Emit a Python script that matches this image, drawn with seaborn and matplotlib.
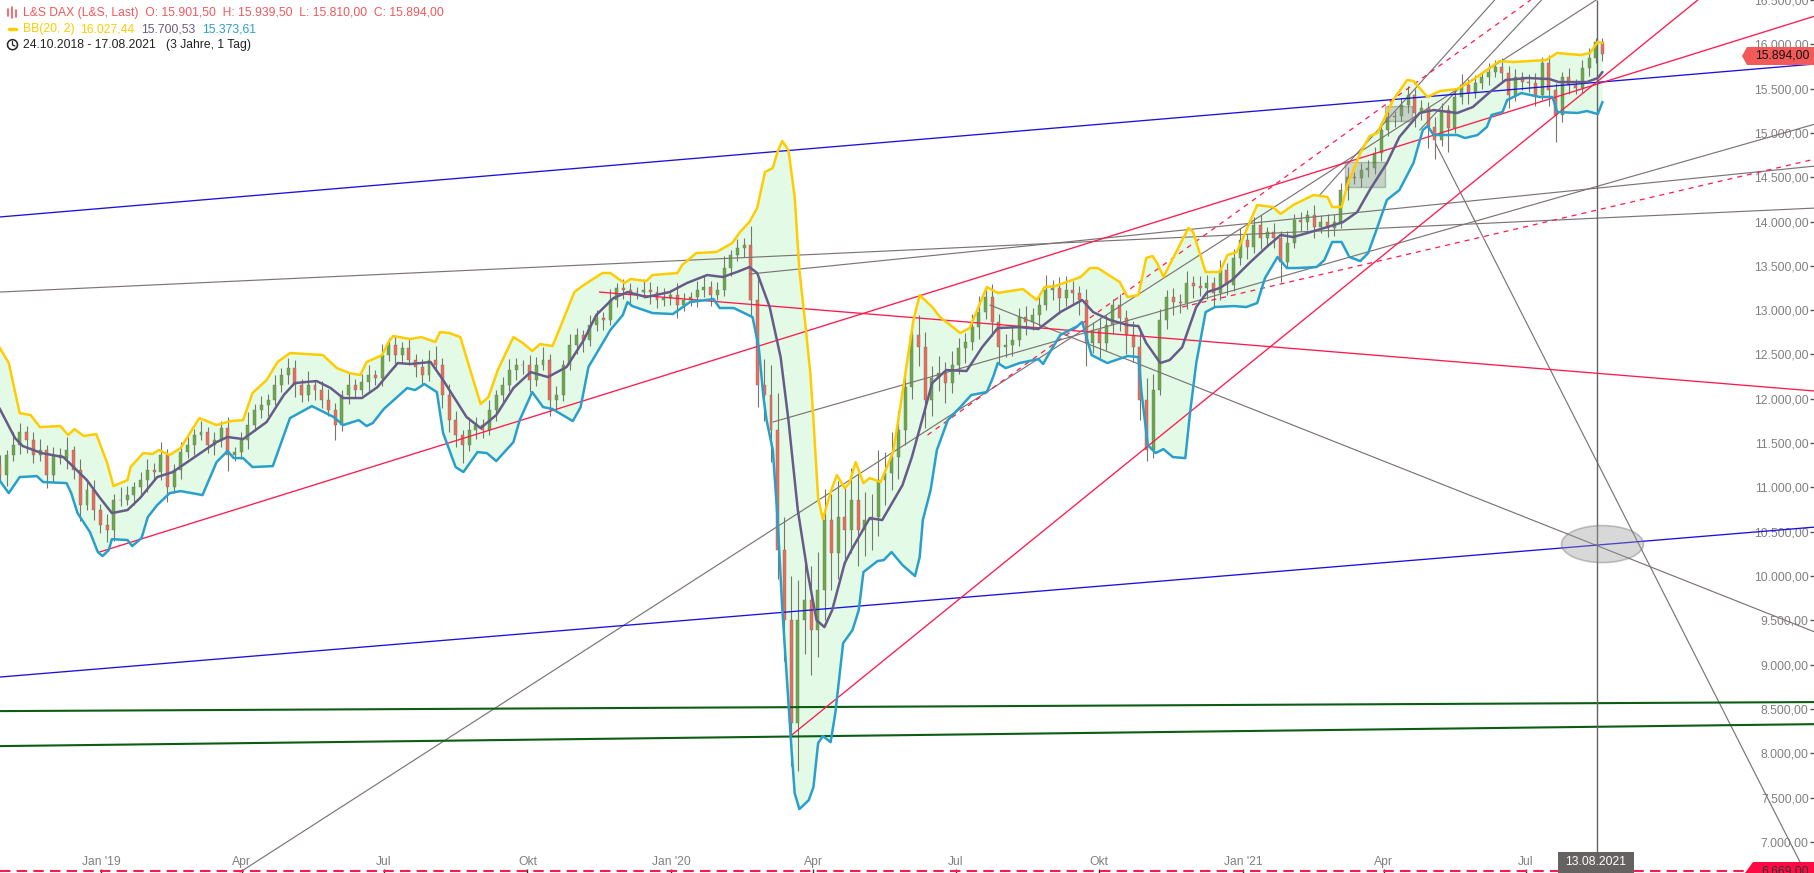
#!/usr/bin/env python3
"""
L&S DAX daily candles with Bollinger bands and hand drawn trend lines
"""

import numpy as np
import pandas as pd
import matplotlib
matplotlib.use('Agg')
import matplotlib.dates as mdates
import matplotlib.pyplot as plt
import seaborn as sns
from matplotlib.lines import Line2D
from matplotlib.patches import Ellipse, Polygon, Rectangle

# all x data is days after the first session
START = pd.Timestamp('2018-10-24')

upper_days = [4, 10, 17, 24, 30, 43, 48, 52, 58, 66, 73, 77, 86, 88, 96, 102, 106, 113, 120, 132,
              143, 152, 160, 166, 175, 182, 190, 211, 220, 228, 235, 239, 249, 253, 256, 267, 274, 283, 286, 292,
              299, 304, 312, 317, 323, 333, 339, 345, 350, 358, 363, 372, 378, 390, 395, 404, 408, 418, 422, 438,
              441, 450, 463, 473, 478, 484, 489, 494, 499, 502, 505, 509, 513, 516, 520, 523, 525, 528, 531, 536,
              540, 545, 548, 552, 557, 561, 568, 576, 580, 589, 593, 601, 606, 619, 625, 636, 643, 659, 668, 673,
              680, 696, 702, 707, 721, 726, 733, 738, 742, 745, 749, 765, 768, 776, 785, 790, 796, 804, 809, 819,
              824, 832, 845, 854, 857, 863, 867, 875, 881, 886, 896, 905, 909, 918, 926, 937, 945, 964, 973, 994,
              1001, 1016, 1022, 1027, 1030]
upper_vals = [12583, 12403, 11838, 11816, 11680, 11692, 11590, 11658, 11579, 11601, 11274, 11014, 11082, 11229, 11387, 11376, 11421, 11364, 11444, 11782,
              11703, 11748, 11759, 12064, 12211, 12414, 12516, 12493, 12346, 12290, 12267, 12414, 12493, 12640, 12708, 12674, 12696, 12640, 12753, 12741,
              12696, 12403, 11940, 12019, 12324, 12696, 12629, 12538, 12617, 12595, 12809, 13204, 13283, 13419, 13419, 13306, 13351, 13328, 13396, 13419,
              13509, 13644, 13656, 13757, 13881, 13994, 14152, 14558, 14604, 14784, 14909, 14807, 14276, 13452, 12809, 12290, 11759, 10879, 10642, 10947,
              11139, 10992, 11048, 11285, 11048, 11105, 11060, 11398, 11838, 12888, 13170, 13035, 12922, 12741, 12798, 13261, 13193, 13238, 13114, 13261,
              13272, 13374, 13475, 13475, 13317, 13148, 13170, 13588, 13611, 13532, 13374, 13927, 13881, 13430, 13430, 13622, 13656, 13983, 14186, 14164,
              14085, 14186, 14299, 14277, 14164, 14164, 14434, 14773, 14965, 15000, 15371, 15597, 15586, 15405, 15473, 15495, 15574, 15811, 15800, 15823,
              15902, 15879, 15902, 16026, 16015]

middle_days = [4, 14, 19, 31, 45, 60, 68, 76, 86, 94, 105, 115, 128, 143, 150, 160, 175, 186, 193, 207,
               216, 224, 236, 246, 254, 259, 267, 280, 288, 303, 312, 322, 333, 344, 355, 367, 378, 386, 397, 406,
               418, 433, 444, 457, 467, 476, 484, 489, 497, 504, 509, 515, 521, 527, 532, 537, 545, 550, 561, 569,
               582, 588, 594, 601, 610, 623, 633, 643, 657, 669, 683, 697, 704, 715, 726, 733, 738, 747, 753, 761,
               770, 777, 785, 793, 804, 815, 824, 832, 841, 854, 864, 873, 881, 892, 900, 913, 922, 937, 947, 958,
               968, 982, 996, 1002, 1020, 1027, 1030]
middle_vals = [11895, 11556, 11466, 11387, 11342, 11082, 10890, 10710, 10744, 10879, 11116, 11173, 11330, 11511, 11568, 11545, 11737, 12042, 12177, 12200,
               12121, 12008, 12008, 12132, 12301, 12403, 12392, 12414, 12211, 11793, 11669, 11816, 12121, 12301, 12245, 12358, 12662, 12945, 13136, 13204,
               13148, 13204, 13306, 13396, 13374, 13430, 13486, 13419, 13035, 12470, 11759, 10744, 10066, 9502, 9423, 9615, 10145, 10315, 10653, 10631,
               11026, 11342, 11726, 12177, 12324, 12313, 12583, 12798, 12809, 12787, 12978, 13114, 12978, 12888, 12832, 12820, 12629, 12403, 12437, 12583,
               13035, 13204, 13249, 13340, 13532, 13712, 13848, 13825, 13870, 13938, 13994, 14107, 14355, 14660, 14954, 15225, 15258, 15225, 15292, 15462,
               15597, 15620, 15608, 15574, 15574, 15620, 15687]

lower_days = [4, 10, 17, 28, 32, 47, 50, 54, 62, 67, 70, 74, 76, 86, 89, 95, 99, 105, 113, 120,
              134, 143, 150, 154, 160, 166, 179, 190, 204, 218, 224, 234, 239, 243, 250, 265, 270, 276, 284, 288,
              296, 301, 310, 316, 322, 333, 337, 345, 352, 358, 371, 376, 381, 395, 403, 406, 409, 422, 435, 446,
              461, 465, 474, 486, 490, 493, 495, 499, 502, 505, 509, 511, 513, 516, 522, 525, 528, 531, 536, 539,
              544, 550, 554, 557, 566, 570, 575, 582, 590, 593, 595, 600, 604, 611, 619, 626, 636, 640, 643, 648,
              657, 669, 672, 676, 683, 694, 697, 703, 713, 726, 733, 735, 739, 744, 749, 755, 763, 766, 770, 776,
              782, 794, 802, 809, 814, 822, 828, 834, 847, 852, 857, 863, 868, 875, 880, 886, 892, 900, 909, 915,
              918, 922, 937, 942, 950, 956, 959, 966, 969, 978, 990, 998, 1001, 1014, 1020, 1027, 1030]
lower_vals = [11082, 10935, 11116, 11127, 11060, 11048, 10935, 10710, 10495, 10270, 10224, 10292, 10416, 10405, 10337, 10428, 10665, 10800, 10935, 10958,
              10913, 11285, 11410, 11330, 11330, 11229, 11240, 11782, 11917, 11793, 11703, 11759, 11692, 11726, 11884, 12121, 12098, 12166, 12075, 11613,
              11229, 11173, 11398, 11387, 11297, 11511, 11759, 12075, 11906, 11884, 11748, 11906, 12358, 12775, 12945, 13091, 13046, 12967, 12956, 13091,
              13125, 13024, 13024, 12922, 12583, 12019, 11759, 11421, 10665, 9649, 8565, 8035, 7549, 7369, 7470, 7617, 8114, 8193, 8125, 8452,
              9242, 9389, 9615, 10044, 10168, 10179, 10270, 10123, 9999, 10213, 10631, 10970, 11421, 11759, 11906, 12042, 12076, 12245, 12403, 12346,
              12403, 12448, 12392, 12516, 12719, 12820, 12866, 12493, 12403, 12482, 12470, 12064, 11477, 11387, 11432, 11342, 11330, 11838, 12403, 12978,
              13035, 13046, 13035, 13080, 13362, 13599, 13475, 13475, 13486, 13565, 13769, 13769, 13599, 13554, 13644, 13938, 14243, 14355, 14660, 15033,
              15078, 14976, 14976, 14942, 14976, 15067, 15202, 15236, 15371, 15450, 15405, 15405, 15236, 15225, 15247, 15213, 15349]

# closes of every few sessions, the open of a candle is the close before it
candle_close = [11250, 11140, 11360, 11480, 11620, 11530, 11360, 11420, 11140, 11360,
                11330, 11420, 11200, 10800, 10970, 10740, 10570, 10520, 10860, 10860,
                10910, 11000, 11080, 11200, 11170, 11360, 11000, 11200, 11400, 11480,
                11590, 11620, 11480, 11530, 11670, 11360, 11400, 11530, 11700, 11870,
                11930, 11990, 12150, 12270, 12350, 12150, 12040, 12150, 12100, 11990,
                11870, 11700, 12040, 12150, 12100, 12190, 12270, 12230, 12490, 12610,
                12490, 12570, 12440, 12360, 12270, 12440, 12380, 12040, 11760, 11590,
                11480, 11650, 11700, 11650, 11870, 12040, 12150, 12320, 12380, 12380,
                12210, 12380, 12440, 11990, 12040, 12380, 12610, 12720, 12660, 12830,
                12910, 12890, 13110, 13250, 13230, 13200, 13200, 13230, 13200, 13110,
                13140, 13170, 13060, 13110, 13150, 13230, 13260, 13170, 13230, 13480,
                13620, 13700, 13730, 13110, 12150, 12040, 11650, 10290, 9500, 8340,
                9500, 9730, 9390, 9840, 10630, 10260, 10660, 10520, 10860, 10520,
                10630, 10660, 11080, 11160, 11340, 11650, 12130, 12720, 12580, 11990,
                12230, 12290, 12180, 12380, 12570, 12640, 12810, 12980, 13150, 12870,
                12580, 12610, 12660, 12920, 12870, 12940, 13060, 13230, 13250, 13140,
                13230, 13190, 13110, 12630, 12780, 12630, 12830, 13060, 12910, 12720,
                12580, 11990, 11420, 12100, 12890, 13150, 13090, 13080, 13310, 13270,
                13250, 13310, 13190, 13450, 13280, 13590, 13790, 13710, 13960, 13810,
                13880, 13810, 13540, 13760, 14020, 13990, 14070, 13940, 13990, 13930,
                13990, 14360, 14500, 14490, 14580, 14600, 14770, 15030, 15180, 15190,
                15310, 15430, 15220, 15280, 15070, 14920, 15260, 15060, 15410, 15540,
                15450, 15560, 15630, 15690, 15740, 15680, 15430, 15630, 15570, 15560,
                15430, 15790, 15480, 15200, 15630, 15540, 15510, 15730, 15850, 16030,
                15894]
candle_wick_up = [90, 120, 60, 140, 110, 70, 90, 130, 60, 100,
                  80, 150, 50, 120, 90, 110, 70, 130, 60, 140,
                  100, 60, 90, 120, 80, 150, 70, 60, 110, 90,
                  70, 130, 60, 100, 80, 120, 60, 90, 150, 70,
                  100, 60, 120, 80, 110, 90, 70, 160, 60, 100,
                  120, 80, 60, 140, 70, 90, 110, 60, 130, 80,
                  100, 70, 120, 60, 90, 110, 150, 80, 130, 100,
                  60, 140, 90, 70, 120, 60, 100, 130, 80, 60,
                  110, 90, 140, 70, 100, 60, 120, 80, 60, 110,
                  90, 70, 130, 60, 100, 80, 60, 120, 90, 70,
                  110, 60, 140, 80, 60, 100, 120, 70, 90, 130,
                  60, 100, 80, 220, 260, 300, 340, 420, 380, 500,
                  460, 520, 380, 430, 350, 300, 410, 330, 360, 290,
                  320, 260, 340, 240, 280, 210, 180, 150, 220, 170,
                  140, 190, 130, 160, 120, 100, 150, 180, 110, 140,
                  90, 120, 160, 100, 130, 80, 110, 170, 90, 120,
                  150, 100, 80, 130, 90, 140, 110, 70, 120, 90,
                  160, 220, 240, 180, 120, 80, 100, 90, 130, 70,
                  110, 90, 60, 120, 80, 100, 140, 70, 90, 110,
                  60, 100, 80, 130, 70, 90, 60, 120, 80, 100,
                  90, 70, 110, 60, 80, 100, 70, 90, 120, 60,
                  80, 100, 60, 90, 70, 110, 80, 60, 100, 120,
                  70, 90, 60, 100, 80, 110, 70, 90, 60, 100,
                  120, 70, 90, 80, 60, 100, 70, 90, 110, 40,
                  45]
candle_wick_dn = [110, 70, 130, 60, 100, 140, 80, 60, 150, 90,
                  70, 120, 100, 180, 60, 110, 90, 140, 120, 70,
                  60, 110, 80, 130, 70, 90, 160, 60, 100, 70,
                  120, 60, 90, 110, 70, 170, 60, 80, 100, 60,
                  90, 120, 60, 70, 100, 130, 80, 60, 110, 90,
                  70, 160, 60, 100, 80, 60, 120, 70, 90, 60,
                  130, 80, 60, 110, 100, 70, 60, 150, 130, 140,
                  210, 70, 100, 90, 60, 120, 80, 60, 110, 100,
                  130, 70, 60, 190, 110, 70, 60, 100, 130, 60,
                  70, 110, 60, 80, 100, 120, 70, 60, 130, 90,
                  60, 80, 150, 70, 60, 110, 80, 120, 60, 70,
                  90, 60, 100, 180, 240, 290, 360, 320, 460, 480,
                  540, 380, 510, 300, 340, 420, 290, 380, 260, 410,
                  300, 340, 210, 280, 190, 240, 170, 130, 210, 320,
                  180, 140, 230, 120, 100, 170, 90, 140, 80, 160,
                  190, 110, 130, 70, 150, 90, 120, 60, 110, 180,
                  90, 130, 170, 260, 110, 190, 80, 100, 140, 210,
                  170, 230, 120, 90, 60, 100, 150, 110, 70, 130,
                  90, 120, 140, 70, 110, 60, 80, 130, 60, 120,
                  90, 110, 220, 70, 60, 100, 80, 130, 70, 110,
                  90, 60, 120, 70, 100, 80, 60, 90, 70, 110,
                  60, 80, 150, 70, 240, 210, 70, 280, 60, 80,
                  120, 60, 70, 90, 60, 110, 150, 70, 90, 100,
                  130, 60, 180, 300, 80, 100, 70, 60, 90, 60,
                  85]

# trend lines, one start and one end each
blue_days = [[4, 1166], [4, 1166]]
blue_vals = [[14051, 15778], [8859, 10552]]
green_days = [[4, 1166], [4, 1166]]
green_vals = [[8475, 8577], [8080, 8328]]
red_days = [[68, 1166], [511, 1091], [388, 1166]]
red_vals = [[10270, 16319], [8204, 16500], [13204, 12087]]
dashed_days = [[598, 984], [761, 1166]]
dashed_vals = [[11590, 16500], [13035, 14705]]
grey_days = [[158, 1026], [849, 961], [913, 991], [499, 1166], [4, 1166], [484, 1166], [638, 1166], [923, 1160]]
grey_vals = [[6658, 16500], [14299, 16500], [15033, 16500], [11737, 15100], [13204, 14152],
             [13407, 14626], [13057, 9367], [14886, 6647]]
low_line_value = 6669
crosshair_day = 1026.5

# grey marker shapes: first day, last day, low, high
box_days = [[865, 891], [891, 908]]
box_vals = [[14389, 14672], [15134, 15304]]
ellipse_day, ellipse_val, ellipse_w, ellipse_h = 1030, 10360, 52.5, 418

y_ticks = list(range(7000, 17000, 500))
x_tick_dates = ['2019-01-01', '2019-04-01', '2019-07-01', '2019-10-01', '2020-01-01', '2020-04-01',
                '2020-07-01', '2020-10-01', '2021-01-01', '2021-04-01', '2021-07-01']
x_tick_labels = ["Jan '19", 'Apr', 'Jul', 'Okt', "Jan '20", 'Apr', 'Jul', 'Okt', "Jan '21", 'Apr', 'Jul']

GOLD = '#ffcc00'
PURPLE = '#675b88'
CYAN = '#2a9fc9'
PINK = '#ff1a4d'
GREY = '#7c7474'
SALMON = '#f25a5a'
FONT = 8.7


def to_dates(days):
    return START + pd.to_timedelta(np.asarray(days, dtype=float), unit='D')


def german(value):
    return f'{value:,.2f}'.replace(',', ' ').replace('.', ',').replace(' ', '.')


def fx(px):
    return px / 1815


def fy(px):
    return 1 - px / 873


def draw_lines(ax, days, vals, **style):
    for d, v in zip(days, vals):
        ax.plot(to_dates(d), v, **style)


def main():
    sns.set_theme(style='white')
    plt.rcParams['font.family'] = ['Liberation Sans', 'DejaVu Sans']

    fig = plt.figure(figsize=(18.15, 8.73), dpi=100)
    ax = fig.add_axes([0, 0, 1, 1])

    # band area
    area_x = np.concatenate([mdates.date2num(to_dates(upper_days)), mdates.date2num(to_dates(lower_days))[::-1]])
    area_y = np.concatenate([upper_vals, lower_vals[::-1]])
    ax.fill(area_x, area_y, color='#e3fbe6', lw=0, zorder=1)

    # candles
    close = np.array(candle_close, dtype=float)
    opens = np.concatenate([[close[0] - 60], close[:-1]])
    candle_dates = to_dates(np.linspace(0, 1030, len(close)))
    highs = np.maximum(opens, close) + np.array(candle_wick_up)
    lows = np.minimum(opens, close) - np.array(candle_wick_dn)
    colors = ['#6aa84a' if c >= o else '#ee6a5a' for o, c in zip(opens, close)]
    ax.vlines(candle_dates, lows, highs, color='#76766a', lw=0.8, zorder=2)
    ax.bar(candle_dates, np.abs(close - opens), bottom=np.minimum(opens, close), width=1.9,
           color=colors, edgecolor='#76766a', linewidth=0.3, zorder=3)

    # trend lines
    draw_lines(ax, grey_days, grey_vals, color=GREY, lw=0.85, zorder=4)
    draw_lines(ax, blue_days, blue_vals, color='#1a10e0', lw=0.95, zorder=4)
    draw_lines(ax, green_days, green_vals, color='#0b5d14', lw=1.5, zorder=4)
    draw_lines(ax, red_days, red_vals, color=PINK, lw=0.95, zorder=4)
    draw_lines(ax, dashed_days, dashed_vals, color=PINK, lw=0.9, ls=(0, (4, 4)), zorder=4)
    ax.axhline(low_line_value, color=PINK, lw=1.5, ls=(0, (5, 3)), zorder=4)
    crosshair = mdates.date2num(to_dates([crosshair_day]))[0]
    ax.vlines(crosshair, 6800, 16500, color='#666262', lw=1.0, zorder=4)

    # bollinger bands
    sns.lineplot(x=to_dates(upper_days), y=upper_vals, color=GOLD, lw=1.8, ax=ax, zorder=6, estimator=None, sort=False)
    sns.lineplot(x=to_dates(lower_days), y=lower_vals, color=CYAN, lw=1.8, ax=ax, zorder=6, estimator=None, sort=False)
    sns.lineplot(x=to_dates(middle_days), y=middle_vals, color=PURPLE, lw=1.8, ax=ax, zorder=6, estimator=None, sort=False)

    # marker shapes
    for d, v in zip(box_days, box_vals):
        x0, x1 = mdates.date2num(to_dates(d))
        ax.add_patch(Rectangle((x0, v[0]), x1 - x0, v[1] - v[0], facecolor='#8a8a8a', alpha=0.35,
                               edgecolor='#555555', lw=1, zorder=5))
    ax.add_patch(Ellipse((mdates.date2num(to_dates([ellipse_day]))[0], ellipse_val), ellipse_w, ellipse_h,
                         facecolor='#9a9a9a', edgecolor='#6a6a6a', alpha=0.38, lw=1.2, zorder=5))

    # axes
    ax.set_xlim(mdates.date2num(to_dates([4.4]))[0], mdates.date2num(to_dates([1166]))[0])
    ax.set_ylim(6648, 16500)
    ax.set_xlabel('')
    ax.set_ylabel('')
    for spine in ax.spines.values():
        spine.set_visible(False)
    ax.set_xticks(pd.to_datetime(x_tick_dates))
    ax.set_xticklabels(x_tick_labels)
    ax.yaxis.tick_right()
    ax.set_yticks(y_ticks)
    ax.set_yticklabels([german(v) for v in y_ticks])
    ax.tick_params(axis='y', direction='in', length=3.5, width=1, color='#555555', labelcolor='#808080',
                   labelsize=FONT, pad=-4.5, right=True, left=False)
    ax.tick_params(axis='x', direction='in', length=3, width=1, color='#333333', labelcolor='#808080',
                   labelsize=FONT, pad=-12.5, bottom=True)
    for label in ax.get_yticklabels():
        label.set_ha('right')

    # price tags
    fig.add_artist(Polygon([(fx(1742), fy(56)), (fx(1747), fy(47)), (fx(1815), fy(47)), (fx(1815), fy(65)), (fx(1747), fy(65))],
                           closed=True, transform=fig.transFigure, facecolor=SALMON, edgecolor='none'))
    fig.text(fx(1809), fy(56), '15.894,00', ha='right', va='center', color='#111111', fontsize=FONT)
    fig.add_artist(Polygon([(fx(1745), fy(873)), (fx(1753), fy(862)), (fx(1815), fy(862)), (fx(1815), fy(873))],
                           closed=True, transform=fig.transFigure, facecolor='#ff0a42', edgecolor='none'))
    fig.text(fx(1809), fy(871), '6.669,00', ha='right', va='center', color='#333333', fontsize=FONT)
    fig.add_artist(Rectangle((fx(1558), fy(873)), fx(76), 21 / 873, transform=fig.transFigure,
                             facecolor='#666262', edgecolor='none'))
    fig.text(fx(1596), fy(862), '13.08.2021', ha='center', va='center', color='white', fontsize=FONT)

    # header
    fig.text(fx(23), fy(12.7), 'L&S DAX (L&S, Last)  O: 15.901,50  H: 15.939,50  L: 15.810,00  C: 15.894,00',
             color='#f0585c', fontsize=FONT, va='center')
    for x, text, col in [(23, 'BB(20, 2)', GOLD), (80, '16.027,44', GOLD), (141, '15.700,53', PURPLE), (202, '15.373,61', CYAN)]:
        fig.text(fx(x), fy(29), text, color=col, fontsize=FONT, va='center')
    fig.text(fx(23), fy(44.7), '24.10.2018 - 17.08.2021', color='#222222', fontsize=FONT, va='center')
    fig.text(fx(166), fy(44.7), '(3 Jahre, 1 Tag)', color='#222222', fontsize=FONT, va='center')

    # header icons
    for x, y0, y1 in [(8, 9, 16), (12, 7, 18), (16, 10, 17)]:
        fig.add_artist(Line2D([fx(x), fx(x)], [fy(y0), fy(y1)], color='#f0585c', lw=1.2))
    fig.add_artist(Line2D([fx(9), fx(16)], [fy(29), fy(29)], color=GOLD, lw=2.5))
    angles = np.linspace(0, 6.3, 40)
    clock = Polygon(np.column_stack([fx(12.5 + 5 * np.cos(angles)), fy(44.7 + 5 * np.sin(angles))]),
                    closed=True, transform=fig.transFigure, fill=False, edgecolor='#222222', lw=1.1)
    fig.add_artist(clock)
    fig.add_artist(Line2D([fx(12.5), fx(12.5), fx(15)], [fy(41.5), fy(45), fy(46)], color='#222222', lw=0.9))

    plt.savefig('out.png', dpi=100)
    plt.close()


if __name__ == '__main__':
    main()
